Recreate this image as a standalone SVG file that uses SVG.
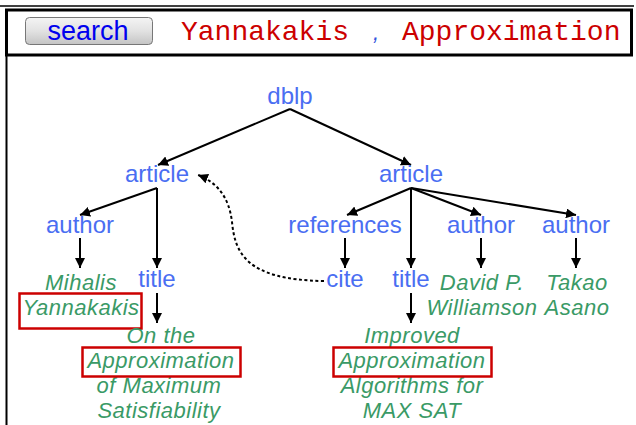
<svg xmlns="http://www.w3.org/2000/svg" width="636" height="425" viewBox="0 0 636 425">
<defs>
<marker id="ah" viewBox="0 0 10 10" refX="10" refY="5" markerWidth="10" markerHeight="10" markerUnits="userSpaceOnUse" orient="auto">
<path d="M0,0 L10,5 L0,10 Z" fill="#000"/>
</marker>
<linearGradient id="btn" x1="0" y1="0" x2="0" y2="1">
<stop offset="0" stop-color="#f4f4f4"/>
<stop offset="0.5" stop-color="#e2e2e2"/>
<stop offset="1" stop-color="#c4c4c4"/>
</linearGradient>
<style>
.n{font-family:"Liberation Sans",Arial,sans-serif;font-size:24px;fill:#4a6ef2;text-anchor:middle}
.v{font-family:"Liberation Sans",Arial,sans-serif;font-size:22px;font-style:italic;fill:#3a9a66;text-anchor:middle;letter-spacing:0.5px}
.e{fill:none;stroke:#000;stroke-width:2;marker-end:url(#ah)}
.hl{fill:none;stroke:#cc0000;stroke-width:2.5}
.q{font-family:"Liberation Mono","Courier New",monospace;font-size:28px;fill:#cc0000}
</style>
</defs>
<rect width="636" height="425" fill="#fff"/>
<g id="frame">
<line x1="0" y1="6" x2="634" y2="6" stroke="#000" stroke-width="1.5"/>
<rect x="6.5" y="10" width="625" height="45" fill="#fff" stroke="#000" stroke-width="3"/>
<line x1="6.5" y1="55" x2="6.5" y2="425" stroke="#000" stroke-width="2"/>
</g>
<g id="search-button">
<rect x="25.5" y="17.5" width="127" height="27" rx="4" fill="url(#btn)" stroke="#777" stroke-width="1"/>
<text x="88" y="40" font-family="'Liberation Sans',Arial,sans-serif" font-size="27" fill="#0000ee" text-anchor="middle">search</text>
</g>
<g id="query">
<text class="q" x="181" y="40">Yannakakis</text>
<text x="373" y="40" font-family="'Liberation Sans',Arial,sans-serif" font-size="22" font-style="italic" fill="#3355dd">,</text>
<text class="q" x="402" y="40">Approximation</text>
</g>
<g id="connectors">
<path class="e" d="M290,109 L158,165"/>
<path class="e" d="M290,109 L411,165"/>
<path class="e" d="M157,188 L80,215"/>
<path class="e" d="M157,188 L157,268"/>
<path class="e" d="M80,238 L80,268"/>
<path class="e" d="M157,293 L157,323"/>
<path class="e" d="M411,188 L347,215"/>
<path class="e" d="M411,188 L411,268"/>
<path class="e" d="M411,188 L481,215"/>
<path class="e" d="M411,188 L576,215"/>
<path class="e" d="M345,238 L345,268"/>
<path class="e" d="M481,238 L481,268"/>
<path class="e" d="M576,238 L576,268"/>
<path class="e" d="M411,293 L411,323"/>
<path class="e" d="M324,281 C245,280 235,252 232,222 C229,196 216,182 198,175" stroke-dasharray="3,2.5"/>
</g>
<g id="dblp"><text class="n" x="290" y="104">dblp</text></g>
<g id="article1"><text class="n" x="157" y="182">article</text></g>
<g id="article2"><text class="n" x="411" y="182">article</text></g>
<g id="author1"><text class="n" x="80" y="233">author</text></g>
<g id="title1"><text class="n" x="157" y="287">title</text></g>
<g id="references"><text class="n" x="345" y="233">references</text></g>
<g id="author2"><text class="n" x="481" y="233">author</text></g>
<g id="author3"><text class="n" x="576" y="233">author</text></g>
<g id="cite"><text class="n" x="345" y="287">cite</text></g>
<g id="title2"><text class="n" x="411" y="287">title</text></g>
<g id="val-author1">
<text class="v" x="81" y="290">Mihalis</text>
<text class="v" x="81" y="315">Yannakakis</text>
<rect class="hl" x="19.5" y="293.5" width="122" height="35"/>
</g>
<g id="val-title1">
<text class="v" x="161" y="343">On the</text>
<text class="v" x="161" y="368">Approximation</text>
<text class="v" x="159" y="393">of Maximum</text>
<text class="v" x="159" y="418">Satisfiability</text>
<rect class="hl" x="82.5" y="347.5" width="158" height="29"/>
</g>
<g id="val-author2">
<text class="v" x="482" y="290">David P.</text>
<text class="v" x="482" y="315">Williamson</text>
</g>
<g id="val-author3">
<text class="v" x="577" y="290">Takao</text>
<text class="v" x="577" y="315">Asano</text>
</g>
<g id="val-title2">
<text class="v" x="412" y="343">Improved</text>
<text class="v" x="412" y="368">Approximation</text>
<text class="v" x="412" y="393">Algorithms for</text>
<text class="v" x="412" y="418">MAX SAT</text>
<rect class="hl" x="333.5" y="347.5" width="158" height="29"/>
</g>
</svg>
